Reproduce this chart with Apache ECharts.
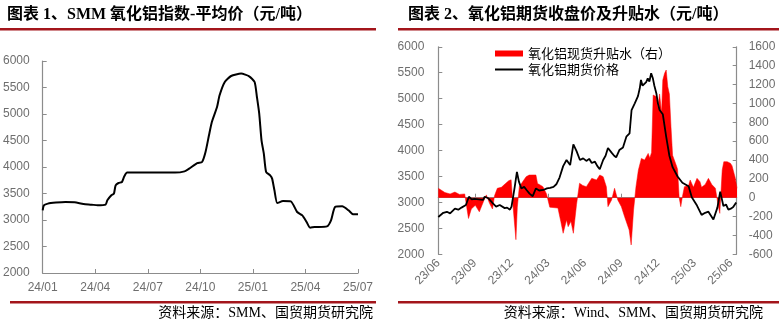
<!DOCTYPE html>
<html>
<head>
<meta charset="utf-8">
<script src="https://cdn.jsdelivr.net/npm/echarts@6/dist/echarts.min.js"></script>
<style>
  html, body { margin: 0; padding: 0; background: #fff; }
  #wrap { position: relative; width: 779px; height: 324px; overflow: hidden; }
  #left { position: absolute; left: 0; top: 0; width: 376px; height: 324px; }
  #right { position: absolute; left: 390px; top: 0; width: 389px; height: 324px; }
</style>
</head>
<body>
<div id="wrap"><div id="left"></div><div id="right"></div></div>
<script>
// ---- SMM alumina index, average price (yuan/t) ----
const smmDates = [
  '2024-01-01','2024-01-03','2024-01-10','2024-01-24','2024-02-10','2024-02-26','2024-03-11','2024-03-25',
  '2024-04-05','2024-04-19','2024-04-22','2024-04-29','2024-05-03','2024-05-06','2024-05-11','2024-05-17',
  '2024-05-21','2024-05-26','2024-08-18','2024-09-04','2024-09-12','2024-09-26','2024-10-04','2024-10-10',
  '2024-10-16','2024-10-21','2024-10-30','2024-11-04','2024-11-13','2024-11-24','2024-12-11','2024-12-25',
  '2025-01-04','2025-01-08','2025-01-12','2025-01-16','2025-01-20','2025-01-24','2025-01-31','2025-02-04',
  '2025-02-08','2025-02-13','2025-02-23','2025-03-06','2025-03-17','2025-03-26','2025-04-03','2025-04-09',
  '2025-04-17','2025-05-08','2025-05-15','2025-05-22','2025-06-04','2025-06-15','2025-06-23','2025-07-01'
];
const smmPrice = [
  3180,3277,3309,3328,3340,3334,3302,3290,
  3277,3290,3371,3466,3497,3654,3698,3717,
  3824,3894,3894,3918,3969,4075,4094,4283,
  4598,4849,5132,5353,5604,5717,5762,5711,
  5604,5321,5007,4504,4253,3906,3843,3781,
  3560,3320,3358,3352,3151,3088,2962,2856,
  2868,2880,2994,3245,3258,3183,3107,3107
];

// ---- Alumina futures close (yuan/t, left axis) ----
const futDates = [
  '2023-06-19','2023-07-01','2023-07-10','2023-07-18','2023-07-30','2023-08-08','2023-08-16','2023-08-27',
  '2023-09-04','2023-09-11','2023-09-18','2023-10-09','2023-10-13','2023-10-22','2023-11-03','2023-11-11',
  '2023-11-20','2023-12-02','2023-12-08','2023-12-15','2023-12-19','2023-12-27','2024-01-02','2024-01-07',
  '2024-01-13','2024-01-20','2024-01-26','2024-02-03','2024-02-11','2024-02-19','2024-02-27','2024-03-07',
  '2024-03-16','2024-03-24','2024-04-02','2024-04-09','2024-04-17','2024-04-26','2024-05-04','2024-05-13',
  '2024-05-21','2024-05-29','2024-06-07','2024-06-15','2024-06-23','2024-06-30','2024-07-06','2024-07-14',
  '2024-07-20','2024-07-26','2024-08-04','2024-08-10','2024-08-16','2024-08-25','2024-09-01','2024-09-06',
  '2024-09-14','2024-09-23','2024-10-01','2024-10-09','2024-10-14','2024-10-22','2024-10-30','2024-11-04',
  '2024-11-07','2024-11-11','2024-11-15','2024-11-20','2024-11-24','2024-11-28','2024-12-02','2024-12-06',
  '2024-12-10','2024-12-15','2024-12-19','2024-12-23','2024-12-31','2025-01-09','2025-01-17','2025-01-25',
  '2025-02-07','2025-02-19','2025-03-04','2025-03-12','2025-03-25','2025-04-06','2025-04-15','2025-04-23',
  '2025-05-05','2025-05-15','2025-05-22','2025-05-30','2025-06-06','2025-06-12','2025-06-18','2025-06-24',
  '2025-07-01'
];
const futPrice = [
  2720,2800,2820,2790,2880,2860,2900,2950,
  3110,3060,3070,3050,3110,3080,2980,2920,
  2950,2890,2900,2860,2920,3300,3590,3400,
  3270,3300,3240,3170,3120,3270,3230,3240,
  3270,3280,3300,3350,3480,3700,3818,3720,
  4120,3990,3818,3850,3800,3840,3760,3785,
  3700,3640,3818,3900,4050,3960,3900,3870,
  4010,4060,4267,4330,4781,4910,5050,5200,
  5360,5250,5280,5320,5392,5330,5489,5400,
  5250,5100,4900,4781,4700,4267,3900,3680,
  3500,3380,3310,3100,2940,2760,2800,2821,
  2670,2900,3207,2930,2960,2860,2880,2910,
  3000
];

// ---- Alumina spot basis (yuan/t, right axis) ----
const basisDates = [
  '2023-06-19','2023-06-23','2023-07-05','2023-07-18','2023-07-30','2023-08-11','2023-08-24','2023-08-29',
  '2023-09-03','2023-09-10','2023-09-20','2023-09-30','2023-10-10','2023-10-17','2023-10-25','2023-11-02',
  '2023-11-07','2023-11-14','2023-11-24','2023-12-04','2023-12-12','2023-12-18','2023-12-22','2023-12-27',
  '2023-12-30','2024-01-03','2024-01-08','2024-01-18','2024-01-25','2024-02-02','2024-02-09','2024-02-19',
  '2024-02-23','2024-03-01','2024-03-06','2024-03-15','2024-03-23','2024-04-13','2024-04-20','2024-04-26',
  '2024-05-04','2024-05-08','2024-05-15','2024-05-21','2024-05-29','2024-06-06','2024-06-14','2024-06-23',
  '2024-07-06','2024-07-18','2024-07-26','2024-08-04','2024-08-12','2024-08-16','2024-08-25','2024-09-02',
  '2024-09-10','2024-09-19','2024-09-27','2024-10-08','2024-10-13','2024-10-19','2024-10-25','2024-10-31',
  '2024-11-08','2024-11-16','2024-11-25','2024-11-29','2024-12-03','2024-12-07','2024-12-15','2024-12-19',
  '2024-12-23','2024-12-28','2024-12-31','2025-01-05','2025-01-09','2025-01-13','2025-01-17','2025-01-21',
  '2025-01-25','2025-02-05','2025-02-07','2025-02-11','2025-02-15','2025-02-19','2025-02-24','2025-03-04',
  '2025-03-08','2025-03-16','2025-03-25','2025-04-02','2025-04-06','2025-04-15','2025-04-23','2025-05-01',
  '2025-05-10','2025-05-16','2025-05-21','2025-05-27','2025-05-31','2025-06-09','2025-06-17','2025-06-21',
  '2025-06-29','2025-07-03'
];
const basisValue = [
  100,80,55,40,60,35,40,-100,
  -220,-120,-80,-150,-40,30,-60,-120,
  20,100,110,150,180,190,-50,-300,
  -445,-100,117,180,223,240,241,241,
  150,130,117,40,-100,-110,-250,-377,
  -236,-307,-250,-377,-70,153,130,117,
  205,188,241,223,117,-95,-24,100,
  -24,-95,-201,-342,-501,-130,117,294,
  417,400,470,420,480,1089,1070,965,
  1100,900,1248,1319,1354,1177,1100,753,
  450,329,300,0,-95,10,117,130,
  188,110,205,170,110,140,205,140,
  100,-60,-166,294,382,382,365,340,
  212,100
];

const leftTicks = { min: 2000, max: 6000, step: 500 };
const rightTicks = { min: -600, max: 1600, step: 200 };

const DARK_RED = '#a3151b';
const AXIS_GRAY = '#8c8c8c';
const LABEL_GRAY = '#6e6e6e';
const TITLE_FONT = 'bold 16px "Liberation Serif", "Noto Sans CJK SC", serif';
const SRC_FONT = '14px "Liberation Serif", "Noto Sans CJK SC", serif';
// thin horizontal stroke inside a 28x6 legend box (tiny anchors at top and bottom keep the box height)
const LINE_ICON = 'path://M0,0L0.01,0L0.01,0.01L0,0.01Z M0,2.1L28,2.1L28,3.9L0,3.9Z M0,5.99L0.01,5.99L0.01,6L0,6Z';

function parts(s) { return s.split('-').map(Number); }
// months elapsed since 2024-01-01
function monthsFrom2024(s) {
  const [y, m, d] = parts(s);
  return (y - 2024) * 12 + (m - 1) + (d - 1) / 30.44;
}
// months elapsed since the contract listing day 2023-06-19
function monthsFromListing(s) {
  const [y, m, d] = parts(s);
  return (y - 2023) * 12 + (m - 6) + (d - 19) / 30.44;
}
function pad(n) { return n < 10 ? '0' + n : '' + n; }
function monthLabel(baseYear, baseMonth) {
  return function (v) {
    const total = baseMonth - 1 + Math.round(v);
    return (baseYear + Math.floor(total / 12)) % 100 + '/' + pad(total % 12 + 1);
  };
}
const plain = v => String(v);

function axisCommon() {
  return {
    axisLine: { show: true, lineStyle: { color: AXIS_GRAY, width: 1.2 } },
    axisTick: { show: true, inside: true, length: 4, lineStyle: { color: AXIS_GRAY } },
    axisLabel: { color: LABEL_GRAY, fontSize: 12, fontFamily: '"Liberation Sans", Arial, sans-serif' },
    splitLine: { show: false }
  };
}

// ---------- left chart ----------
const leftChart = echarts.init(document.getElementById('left'), null, { renderer: 'canvas' });
const lx = axisCommon();
const ly = axisCommon();
leftChart.setOption({
  animation: false,
  grid: { left: 40, right: 10, top: 61, bottom: 51 },
  xAxis: Object.assign(lx, {
    type: 'value', min: 0, max: 18, interval: 3,
    axisLabel: Object.assign(lx.axisLabel, { margin: 9, formatter: monthLabel(2024, 1), showMaxLabel: true })
  }),
  yAxis: Object.assign(ly, {
    type: 'value', min: leftTicks.min, max: leftTicks.max, interval: leftTicks.step,
    axisLabel: Object.assign(ly.axisLabel, { margin: 13, formatter: plain })
  }),
  series: [{
    type: 'line',
    data: smmDates.map((d, i) => [monthsFrom2024(d), smmPrice[i]]),
    symbol: 'none',
    smooth: 0.2,
    lineStyle: { color: '#000', width: 2 }
  }],
  graphic: [
    { type: 'text', style: { text: '图表 1、SMM 氧化铝指数-平均价（元/吨）', x: 7, y: 15, textVerticalAlign: 'middle', font: TITLE_FONT, fill: '#000' } },
    { type: 'rect', shape: { x: 0, y: 28, width: 376, height: 2.5 }, style: { fill: DARK_RED } },
    { type: 'rect', shape: { x: 10, y: 301, width: 366, height: 2.5 }, style: { fill: DARK_RED } },
    { type: 'text', style: { text: '资料来源：SMM、国贸期货研究院', x: 373, y: 313, textAlign: 'right', textVerticalAlign: 'middle', font: SRC_FONT, fill: '#000' } }
  ]
});

// ---------- right chart ----------
const rightChart = echarts.init(document.getElementById('right'), null, { renderer: 'canvas' });
const rx = axisCommon();
const ry1 = axisCommon();
const ry2 = axisCommon();
rightChart.setOption({
  animation: false,
  grid: { left: 48.3, right: 42.3, top: 46.8, bottom: 69.7 },
  legend: {
    orient: 'vertical', left: 100, top: 42, itemWidth: 28, itemHeight: 6, itemGap: 3,
    textStyle: { fontSize: 13, color: '#000', fontFamily: '"Noto Sans CJK SC", sans-serif' },
    data: [
      { name: '氧化铝现货升贴水（右）', icon: 'rect' },
      { name: '氧化铝期货价格', icon: LINE_ICON }
    ]
  },
  xAxis: Object.assign(rx, {
    type: 'value', min: 0, max: 24.45, interval: 3,
    axisLabel: Object.assign(rx.axisLabel, { rotate: 45, margin: 7, formatter: monthLabel(2023, 6), showMaxLabel: false })
  }),
  yAxis: [
    Object.assign(ry1, {
      type: 'value', position: 'left', min: leftTicks.min, max: leftTicks.max, interval: leftTicks.step,
      axisLabel: Object.assign(ry1.axisLabel, { margin: 14, formatter: plain })
    }),
    Object.assign(ry2, {
      type: 'value', position: 'right', min: rightTicks.min, max: rightTicks.max, interval: rightTicks.step,
      axisLabel: Object.assign(ry2.axisLabel, { margin: 12, formatter: plain })
    })
  ],
  series: [
    {
      name: '氧化铝现货升贴水（右）',
      type: 'line', yAxisIndex: 1,
      data: basisDates.map((d, i) => [monthsFromListing(d), basisValue[i]]),
      symbol: 'none',
      itemStyle: { color: '#ff0000' },
      lineStyle: { color: '#ff0000', width: 0.5 },
      areaStyle: { color: '#ff0000', opacity: 1, origin: 0 },
      z: 1
    },
    {
      name: '氧化铝期货价格',
      type: 'line', yAxisIndex: 0,
      data: futDates.map((d, i) => [monthsFromListing(d), futPrice[i]]),
      symbol: 'none',
      itemStyle: { color: '#000' },
      lineStyle: { color: '#000', width: 1.8 },
      z: 2
    }
  ],
  graphic: [
    { type: 'text', style: { text: '图表 2、氧化铝期货收盘价及升贴水（元/吨）', x: 18, y: 15, textVerticalAlign: 'middle', font: TITLE_FONT, fill: '#000' } },
    { type: 'rect', shape: { x: 8, y: 28, width: 381, height: 2.5 }, style: { fill: DARK_RED } },
    { type: 'rect', shape: { x: 8, y: 301, width: 381, height: 2.5 }, style: { fill: DARK_RED } },
    { type: 'text', style: { text: '资料来源：Wind、SMM、国贸期货研究院', x: 373, y: 313, textAlign: 'right', textVerticalAlign: 'middle', font: SRC_FONT, fill: '#000' } }
  ]
});
</script>
</body>
</html>
